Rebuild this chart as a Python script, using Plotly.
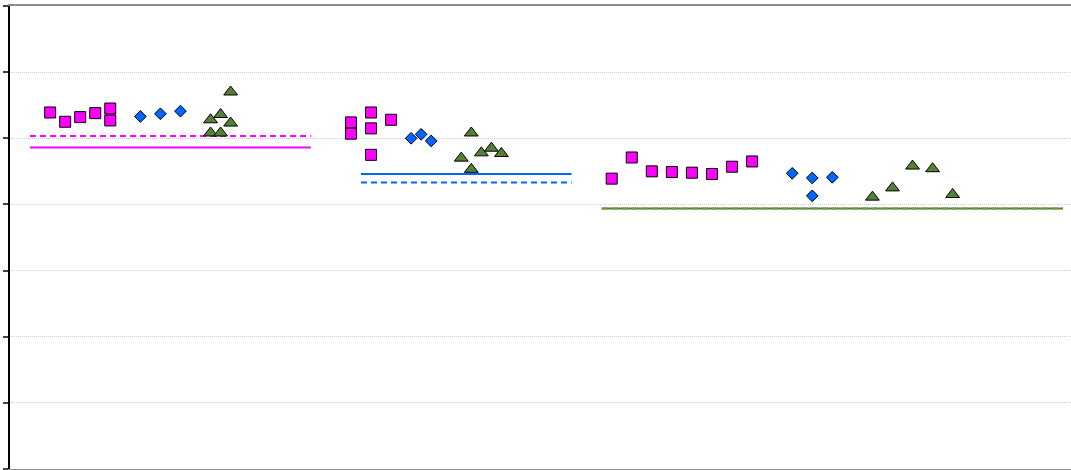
import plotly.graph_objects as go

# ---- data ----
# Group 1
g1_sq_x = [4, 5.5, 7, 8.5, 10, 10]
g1_sq_y = [5.39, 5.25, 5.32, 5.38, 5.45, 5.27]
g1_di_x = [13, 15, 17]
g1_di_y = [5.33, 5.37, 5.41]
g1_tr_x = [22, 20, 21, 22, 20, 21]
g1_tr_y = [5.70, 5.28, 5.36, 5.23, 5.08, 5.08]
g1_line_x = [2, 30]
g1_solid = 4.86
g1_dash = 5.035

# Group 2
g2_sq_x = [34, 34, 36, 36, 36, 38]
g2_sq_y = [5.24, 5.07, 5.39, 5.15, 4.75, 5.28]
g2_di_x = [40, 41, 42]
g2_di_y = [5.00, 5.06, 4.96]
g2_tr_x = [46, 45, 47, 48, 49, 46]
g2_tr_y = [5.08, 4.70, 4.78, 4.85, 4.77, 4.53]
g2_line_x = [35, 56]
g2_solid = 4.46
g2_dash = 4.33

# Group 3
g3_sq_x = [60, 62, 64, 66, 68, 70, 72, 74]
g3_sq_y = [4.39, 4.71, 4.50, 4.49, 4.48, 4.46, 4.57, 4.65]
g3_di_x = [78, 80, 80, 82]
g3_di_y = [4.47, 4.40, 4.13, 4.41]
g3_tr_x = [86, 88, 90, 92, 94]
g3_tr_y = [4.11, 4.25, 4.58, 4.54, 4.15]
g3_line_x = [59, 105]
g3_solid = 3.94
g3_dash = 3.94

MAGENTA = "#FF00FF"
BLUE = "#0066FF"
GREEN = "#548235"

fig = go.Figure()

def add_line(xs, yv, color, dash):
    fig.add_trace(go.Scatter(x=xs, y=[yv, yv], mode="lines",
                             line=dict(color=color, width=2, dash=dash),
                             hoverinfo="skip", showlegend=False))

add_line(g1_line_x, g1_solid, MAGENTA, "solid")
add_line(g1_line_x, g1_dash, MAGENTA, "6px,4px")
add_line(g2_line_x, g2_solid, BLUE, "solid")
add_line(g2_line_x, g2_dash, BLUE, "6px,4px")
add_line(g3_line_x, g3_solid, GREEN, "solid")
add_line(g3_line_x, g3_dash, "#6E9A48", "6px,4px")

def add_pts(xs, ys, color, symbol, size):
    fig.add_trace(go.Scatter(x=xs, y=ys, mode="markers",
                             marker=dict(color=color, symbol=symbol, size=size,
                                         line=dict(color="black", width=1)),
                             showlegend=False))

for sx, sy, dx, dy, tx, ty in [
    (g1_sq_x, g1_sq_y, g1_di_x, g1_di_y, g1_tr_x, g1_tr_y),
    (g2_sq_x, g2_sq_y, g2_di_x, g2_di_y, g2_tr_x, g2_tr_y),
    (g3_sq_x, g3_sq_y, g3_di_x, g3_di_y, g3_tr_x, g3_tr_y),
]:
    add_pts(sx, sy, MAGENTA, "square", 11)
    add_pts(dx, dy, BLUE, "diamond", 9)
    add_pts(tx, ty, GREEN, "triangle-up", 12)

fig.update_layout(
    width=1071, height=470,
    margin=dict(l=10, r=0, t=6, b=1),
    plot_bgcolor="white", paper_bgcolor="white",
    showlegend=False,
    xaxis=dict(range=[0, 105.8], showgrid=False, zeroline=False,
               showticklabels=False, ticks="",
               showline=True, linecolor="#8c8c8c", linewidth=2, mirror=True),
    yaxis=dict(range=[0, 7], dtick=1, tick0=0, showgrid=True,
               gridcolor="#cfcfcf", griddash="1px,1px", gridwidth=1,
               zeroline=False, showticklabels=False,
               ticks="outside", ticklen=5, tickcolor="#444", tickwidth=2,
               showline=True, linecolor="black", linewidth=2),
)

fig.write_html("out.html",
               config={"displayModeBar": False},
               post_script="document.body.style.margin='0';"
                           "document.body.style.overflow='hidden';")
